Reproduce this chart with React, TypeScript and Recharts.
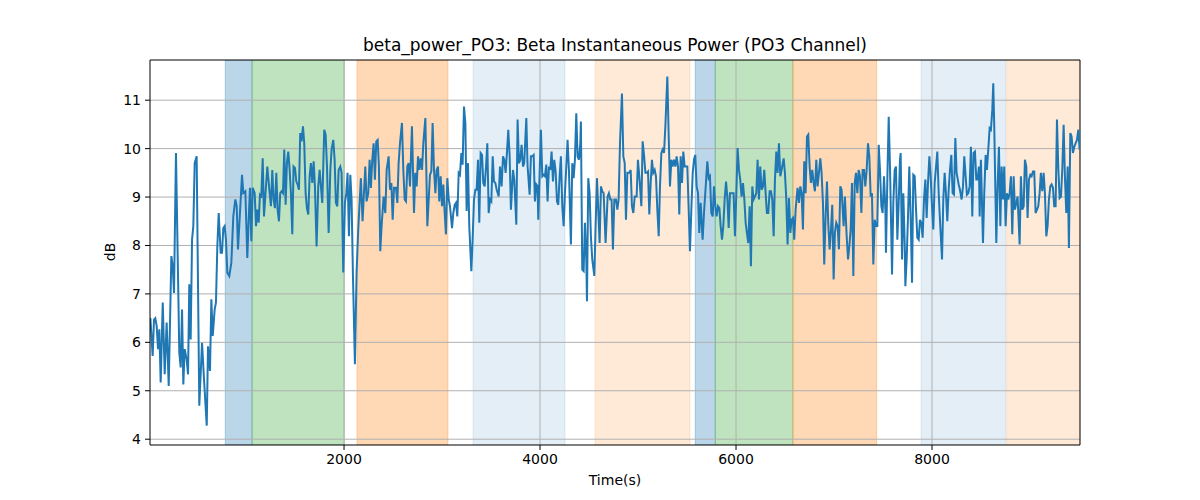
import { LineChart, Line, XAxis, YAxis, ReferenceArea, ReferenceLine } from 'recharts'

// trace, [time (s), power (dB)], split in chunks along the time axis
const powerA: [number, number][] = [
  [24, 6.5], [47, 5.72], [61, 6.47], [74, 6.5], [88, 6.34], [102, 5.86], [115, 6.27], [129, 5.17],
  [150, 6.82], [170, 5.34], [190, 6.41], [211, 5.1], [238, 7.78], [252, 7.57], [265, 7.02], [285, 9.91],
  [319, 5.79], [333, 5.48], [347, 6.68], [360, 5.13], [374, 5.86], [394, 5.65], [408, 5.34], [421, 7.2],
  [435, 6.06], [449, 8.12], [462, 8.4], [476, 9.7], [496, 9.84], [523, 4.69], [551, 5.99], [571, 5.24],
  [599, 4.28], [612, 5.92], [632, 5.41], [646, 6.89], [660, 6.13], [680, 6.68], [693, 6.82], [707, 7.98],
  [721, 8.67], [741, 7.85], [755, 7.85], [768, 8.36], [782, 8.4], [795, 8.12], [809, 7.44], [829, 7.37],
  [850, 7.64], [870, 8.6], [891, 8.95], [905, 8.81], [918, 7.92], [938, 8.67], [959, 9.46], [972, 9.08],
  [993, 9.12], [1013, 7.74], [1027, 8.53], [1040, 9.19], [1054, 8.09], [1068, 9.19], [1088, 9.08], [1102, 8.4],
  [1115, 8.74], [1129, 8.47], [1142, 9.05], [1156, 9.02], [1170, 9.8], [1183, 8.6], [1197, 9.02], [1217, 9.63],
]
const powerB: [number, number][] = [
  [1241, 9.08], [1254, 8.81], [1268, 9.56], [1281, 8.95], [1295, 8.77], [1309, 9.5], [1322, 8.74], [1336, 8.5],
  [1349, 9.08], [1363, 9.12], [1377, 9.08], [1390, 9.98], [1404, 8.84], [1417, 9.7], [1431, 9.94], [1445, 9.56],
  [1458, 9.08], [1472, 8.23], [1485, 9.63], [1499, 9.6], [1513, 9.32], [1526, 9.26], [1540, 9.15], [1553, 10.32],
  [1567, 10.15], [1581, 10.46], [1594, 10.11], [1608, 9.08], [1621, 8.77], [1635, 8.64], [1649, 9.43], [1662, 9.7],
  [1676, 9.29], [1690, 9.74], [1703, 9.22], [1720, 7.98], [1737, 9.22], [1751, 9.56], [1764, 9.22], [1778, 8.88],
  [1798, 10.39], [1812, 10.29], [1826, 9.63], [1843, 8.26], [1860, 9.56], [1873, 9.98], [1890, 10.18], [1904, 9.77],
  [1917, 8.88], [1931, 8.81], [1945, 9.56], [1962, 9.63], [1975, 9.5], [1992, 7.44], [2009, 8.88], [2023, 9.08],
  [2036, 9.5], [2050, 8.19], [2064, 9.46], [2077, 8.95], [2091, 7.37], [2111, 5.55], [2128, 7.44], [2145, 8.33],
  [2159, 8.88], [2172, 9.39], [2189, 8.5], [2203, 9.08], [2217, 9.63], [2230, 8.91], [2247, 9.08], [2261, 9.77],
  [2274, 9.19], [2288, 9.77], [2302, 10.11], [2315, 9.36], [2329, 10.15], [2343, 10.18], [2356, 9.63], [2370, 7.88],
  [2383, 8.4], [2404, 9.01],
]
const powerC: [number, number][] = [
  [2421, 8.67], [2435, 9.56], [2455, 9.84], [2469, 9.15], [2483, 9.29], [2496, 8.53], [2510, 9.19], [2530, 9.19],
  [2544, 8.88], [2557, 9.7], [2571, 10.11], [2591, 10.53], [2605, 9.56], [2619, 8.95], [2632, 8.91], [2646, 9.63],
  [2659, 9.7], [2673, 9.22], [2693, 10.46], [2714, 8.67], [2727, 9.5], [2741, 9.22], [2755, 9.84], [2768, 9.56],
  [2782, 9.8], [2796, 9.56], [2809, 10.11], [2830, 10.63], [2850, 8.4], [2864, 8.95], [2877, 9.46], [2891, 9.53],
  [2904, 10.53], [2918, 9.56], [2932, 9.08], [2945, 9.56], [2959, 9.63], [2972, 8.91], [2986, 9.43], [3000, 8.81],
  [3013, 9.26], [3027, 8.67], [3040, 8.23], [3054, 9.39], [3068, 8.95], [3081, 8.81], [3102, 8.36], [3115, 8.67],
  [3129, 8.84], [3142, 8.88], [3156, 8.6], [3170, 9.5], [3183, 9.46], [3197, 9.91], [3210, 9.67], [3224, 10.87],
  [3238, 10.53], [3251, 8.71], [3265, 9.7], [3278, 8.4], [3299, 7.47], [3312, 8.12], [3326, 8.95], [3340, 9.15],
  [3353, 9.15], [3367, 9.77], [3380, 8.47], [3394, 9.91], [3408, 9.87], [3421, 9.29], [3435, 9.22], [3449, 9.63],
  [3462, 10.11], [3476, 8.67], [3490, 8.95], [3503, 8.91], [3517, 9.84], [3530, 9.32], [3544, 9.29], [3558, 9.15],
  [3578, 9.01], [3592, 9.63],
]
const powerD: [number, number][] = [
  [3608, 9.22], [3622, 9.84], [3635, 9.77], [3649, 9.5], [3662, 9.91], [3676, 10.39], [3690, 9.84], [3703, 8.74],
  [3724, 9.56], [3737, 9.36], [3758, 8.43], [3771, 10.6], [3785, 9.7], [3798, 9.77], [3812, 10.08], [3826, 9.63],
  [3839, 9.7], [3860, 10.63], [3873, 9.63], [3894, 9.05], [3907, 9.84], [3921, 9.84], [3935, 9.87], [3948, 8.91],
  [3962, 9.26], [3975, 9.22], [3982, 8.53], [3996, 9.5], [4009, 10.39], [4023, 9.43], [4037, 9.46], [4050, 9.43],
  [4064, 9.67], [4077, 8.91], [4091, 9.63], [4105, 9.56], [4118, 9.94], [4132, 9.32], [4145, 9.77], [4159, 9.53],
  [4173, 8.91], [4186, 8.84], [4200, 9.43], [4213, 9.84], [4227, 8.81], [4241, 8.4], [4254, 9.08], [4268, 9.63],
  [4281, 10.18], [4295, 9.56], [4315, 8.02], [4329, 9.7], [4343, 9.39], [4356, 9.77], [4370, 10.73], [4383, 9.84],
  [4397, 9.77], [4411, 10.11], [4417, 10.56], [4431, 7.5], [4445, 7.47], [4458, 8.47], [4472, 7.71], [4479, 6.85],
  [4492, 9.39], [4506, 9.08], [4519, 8.19], [4533, 7.71], [4554, 7.37], [4567, 8.4], [4581, 9.39], [4594, 8.74],
  [4608, 8.05], [4622, 9.22], [4635, 9.12], [4649, 9.08], [4669, 8.05], [4690, 9.01], [4703, 9.08], [4717, 8.95],
  [4730, 8.95], [4744, 7.92], [4758, 8.95],
]
const powerE: [number, number][] = [
  [4775, 8.95], [4789, 8.74], [4802, 8.95], [4816, 10.11], [4836, 11.14], [4850, 9.84], [4864, 9.7], [4877, 8.53],
  [4891, 9.5], [4911, 9.5], [4925, 9.56], [4938, 8.81], [4952, 8.67], [4966, 9.01], [4986, 9.01], [4999, 9.77],
  [5013, 9.43], [5034, 8.81], [5047, 10.15], [5061, 9.87], [5075, 9.5], [5088, 9.5], [5102, 9.53], [5115, 8.64],
  [5129, 9.29], [5142, 9.77], [5156, 9.5], [5170, 9.56], [5183, 9.43], [5197, 8.74], [5211, 8.19], [5224, 9.22],
  [5238, 9.91], [5251, 9.98], [5265, 9.91], [5279, 10.46], [5299, 11.49], [5313, 10.25], [5326, 9.22], [5340, 9.77],
  [5353, 9.63], [5367, 9.77], [5381, 9.63], [5394, 9.84], [5408, 9.63], [5421, 8.64], [5435, 9.84], [5449, 9.29],
  [5462, 9.94], [5476, 9.63], [5490, 9.63], [5503, 9.63], [5517, 8.74], [5530, 7.88], [5544, 8.74], [5558, 9.5],
  [5571, 9.77], [5584, 9.87], [5598, 9.22], [5612, 9.08], [5625, 8.26], [5639, 8.88], [5659, 8.12], [5673, 8.67],
  [5693, 9.29], [5707, 9.74], [5721, 9.39], [5734, 9.43], [5748, 8.67], [5762, 8.6], [5775, 9.22], [5789, 8.81],
  [5802, 8.6], [5816, 8.81], [5830, 8.77], [5843, 8.4], [5857, 8.12], [5870, 8.4], [5884, 8.95], [5898, 9.32],
  [5911, 9.01], [5925, 8.36], [5938, 9.08],
]
const powerF: [number, number][] = [
  [5962, 9.08], [5975, 9.08], [5989, 8.19], [6003, 9.08], [6016, 10.01], [6030, 9.56], [6043, 9.36], [6057, 9.01],
  [6071, 9.29], [6084, 8.98], [6098, 8.47], [6111, 8.26], [6125, 8.05], [6139, 8.81], [6152, 7.57], [6166, 9.22],
  [6179, 8.95], [6193, 9.01], [6207, 9.08], [6220, 9.77], [6234, 8.95], [6247, 9.63], [6261, 9.15], [6275, 9.22],
  [6288, 9.56], [6302, 9.08], [6315, 8.67], [6329, 8.67], [6343, 9.12], [6356, 9.12], [6370, 8.95], [6384, 8.19],
  [6397, 9.36], [6411, 9.94], [6424, 9.5], [6438, 10.11], [6452, 9.43], [6465, 9.56], [6486, 9.8], [6499, 9.5],
  [6513, 8.95], [6526, 8.02], [6540, 8.98], [6554, 8.26], [6567, 8.53], [6581, 8.57], [6594, 8.12], [6608, 8.74],
  [6628, 9.19], [6642, 8.88], [6656, 9.22], [6669, 9.08], [6683, 8.33], [6696, 9.74], [6710, 9.08], [6724, 10.25],
  [6737, 10.29], [6751, 9.63], [6764, 9.29], [6778, 9.56], [6792, 9.29], [6805, 9.12], [6819, 9.77], [6832, 9.22],
  [6846, 9.5], [6860, 9.8], [6873, 9.5], [6887, 8.88], [6900, 7.61], [6914, 8.6], [6928, 9.32], [6941, 8.47],
  [6955, 7.92], [6969, 8.33], [6982, 8.84], [6996, 7.3], [7009, 8.26], [7023, 8.47], [7037, 8.4], [7050, 7.92],
  [7064, 9.22], [7077, 9.15], [7098, 8.4], [7111, 9.01],
]
const powerG: [number, number][] = [
  [7129, 8.19], [7143, 7.71], [7156, 7.98], [7170, 8.33], [7183, 9.29], [7197, 7.37], [7211, 9.29], [7224, 9.5],
  [7238, 9.08], [7251, 9.56], [7265, 9.43], [7279, 8.67], [7292, 9.56], [7306, 9.56], [7319, 9.22], [7333, 9.56],
  [7347, 10.11], [7360, 9.84], [7374, 9.01], [7387, 9.08], [7401, 7.61], [7415, 8.53], [7428, 8.4], [7442, 8.4],
  [7456, 10.08], [7469, 9.56], [7483, 8.81], [7496, 8.67], [7510, 9.43], [7524, 8.74], [7530, 7.85], [7544, 9.36],
  [7558, 10.66], [7571, 9.63], [7592, 7.4], [7605, 8.88], [7619, 9.56], [7632, 9.63], [7646, 8.12], [7660, 8.88],
  [7673, 9.77], [7680, 9.91], [7694, 7.71], [7707, 9.08], [7721, 8.05], [7728, 7.16], [7741, 7.71], [7755, 8.6],
  [7768, 9.63], [7782, 8.6], [7796, 7.23], [7809, 9.46], [7823, 9.43], [7837, 8.74], [7850, 8.16], [7864, 8.12],
  [7877, 8.53], [7891, 8.47], [7904, 8.16], [7918, 8.95], [7932, 9.36], [7945, 8.57], [7959, 9.29], [7973, 9.84],
  [7986, 9.43], [8000, 8.81], [8013, 8.33], [8027, 9.29], [8040, 9.6], [8054, 9.94], [8068, 9.08], [8081, 8.53],
  [8102, 7.71], [8115, 8.95], [8129, 9.5], [8142, 9.08], [8156, 8.5], [8170, 9.15], [8183, 9.56], [8197, 9.87],
  [8210, 9.08], [8224, 9.05], [8238, 10.22], [8251, 9.5], [8272, 9.26], [8285, 9.15],
]
const powerH: [number, number][] = [
  [8302, 8.95], [8316, 9.22], [8329, 9.84], [8343, 9.43], [8356, 9.05], [8370, 9.08], [8384, 9.22], [8397, 10.04],
  [8411, 8.6], [8424, 9.91], [8438, 9.94], [8452, 9.36], [8465, 9.36], [8479, 9.63], [8486, 8.6], [8499, 9.77],
  [8520, 8.05], [8533, 9.08], [8547, 9.87], [8560, 9.56], [8574, 9.98], [8588, 10.42], [8601, 10.39], [8615, 10.8],
  [8625, 11.35], [8635, 10.46], [8656, 8.05], [8669, 9.22], [8683, 10.04], [8697, 8.4], [8710, 9.63], [8724, 8.95],
  [8737, 9.63], [8751, 8.4], [8765, 9.08], [8778, 8.95], [8792, 9.08], [8805, 9.43], [8819, 8.23], [8833, 9.43],
  [8846, 8.74], [8860, 8.88], [8873, 9.01], [8894, 8.02], [8907, 9.43], [8921, 8.74], [8935, 8.81], [8948, 9.77],
  [8962, 9.63], [8975, 8.57], [8989, 9.36], [9003, 9.46], [9016, 9.43], [9030, 9.53], [9043, 9.53], [9057, 8.67],
  [9071, 8.74], [9084, 8.81], [9098, 9.08], [9111, 9.5], [9125, 9.12], [9139, 9.5], [9152, 9.08], [9166, 8.19],
  [9179, 8.4], [9193, 8.95], [9207, 9.22], [9220, 9.26], [9234, 9.19], [9247, 8.81], [9261, 8.81], [9275, 10.6],
  [9288, 9.63], [9302, 8.98], [9316, 9.01], [9329, 9.56], [9343, 10.49], [9356, 9.43], [9370, 8.67], [9384, 9.63],
  [9397, 7.95], [9411, 10.32], [9424, 10.25], [9438, 9.91], [9452, 10.04], [9465, 10.11], [9479, 10.18], [9493, 10.39],
  [9506, 9.98],
]

// shaded task periods
const BAND_START = [788, 1061, 2132, 3316, 4561, 5584, 5788, 6581, 7888, 8762]
const BAND_END = [1061, 2003, 3061, 4255, 5530, 5788, 6581, 7435, 8751, 9510]
const BAND_KIND = ['blue', 'green', 'orange', 'paleBlue', 'paleOrange', 'blue', 'green', 'orange', 'paleBlue', 'paleOrange']

const X_TICKS = [2000, 4000, 6000, 8000]
const Y_TICKS = [4, 5, 6, 7, 8, 9, 10, 11]
const X_DOMAIN: [number, number] = [20, 9510]
const Y_DOMAIN: [number, number] = [3.88, 11.83]

const BAND_STYLE: Record<string, { color: string; alpha: number }> = {
  blue: { color: '#1f77b4', alpha: 0.3 },
  green: { color: '#2ca02c', alpha: 0.3 },
  orange: { color: '#ff7f0e', alpha: 0.3 },
  paleBlue: { color: '#1f77b4', alpha: 0.12 },
  paleOrange: { color: '#ff7f0e', alpha: 0.16 },
}

const FONT = '"DejaVu Sans", sans-serif'

const trace = [powerA, powerB, powerC, powerD, powerE, powerF, powerG, powerH]
  .flat()
  .map(([time, db]) => ({ time, db }))

export default function App() {
  return (
    <div style={{ position: 'absolute', left: 0, top: 0, width: 1200, height: 500, background: '#fff', fontFamily: FONT }}>
      <div style={{ position: 'absolute', left: 150, width: 930, top: 35, textAlign: 'center', fontSize: 17, color: '#000' }}>
        beta_power_PO3: Beta Instantaneous Power (PO3 Channel)
      </div>
      <LineChart width={1200} height={500} data={trace} margin={{ top: 60, right: 120, bottom: 25, left: 90 }}>
        <XAxis
          dataKey="time" type="number" domain={X_DOMAIN} ticks={X_TICKS} allowDataOverflow
          height={30} tickSize={5} tickMargin={4} stroke="#000"
          tick={{ fill: '#000', fontSize: 14, fontFamily: FONT }}
        />
        <YAxis
          type="number" domain={Y_DOMAIN} ticks={Y_TICKS} allowDataOverflow
          width={60} tickSize={5} tickMargin={4} stroke="#000"
          tick={{ fill: '#000', fontSize: 14, fontFamily: FONT }}
        />
        {BAND_START.map((start, i) => {
          const s = BAND_STYLE[BAND_KIND[i]]
          return (
            <ReferenceArea
              key={'band' + i} x1={start} x2={BAND_END[i]} y1={Y_DOMAIN[0]} y2={Y_DOMAIN[1]}
              fill={s.color} fillOpacity={s.alpha} stroke={s.color} strokeOpacity={s.alpha} ifOverflow="hidden"
            />
          )
        })}
        {X_TICKS.map(t => (
          <ReferenceLine key={'gx' + t} x={t} stroke="#b0b0b0" strokeWidth={1} />
        ))}
        {Y_TICKS.map(t => (
          <ReferenceLine key={'gy' + t} y={t} stroke="#b0b0b0" strokeWidth={1} />
        ))}
        <ReferenceLine x={X_DOMAIN[1]} stroke="#000" strokeWidth={1} />
        <ReferenceLine y={Y_DOMAIN[1]} stroke="#000" strokeWidth={1} />
        <Line
          dataKey="db" type="linear" stroke="#1f77b4" strokeWidth={2}
          dot={false} isAnimationActive={false}
        />
      </LineChart>
      <div style={{ position: 'absolute', left: 150, width: 930, top: 472, textAlign: 'center', fontSize: 14, color: '#000' }}>
        Time(s)
      </div>
      <div style={{ position: 'absolute', left: 110, top: 252, transform: 'translate(-50%, -50%) rotate(-90deg)', fontSize: 14, color: '#000' }}>
        dB
      </div>
    </div>
  )
}
